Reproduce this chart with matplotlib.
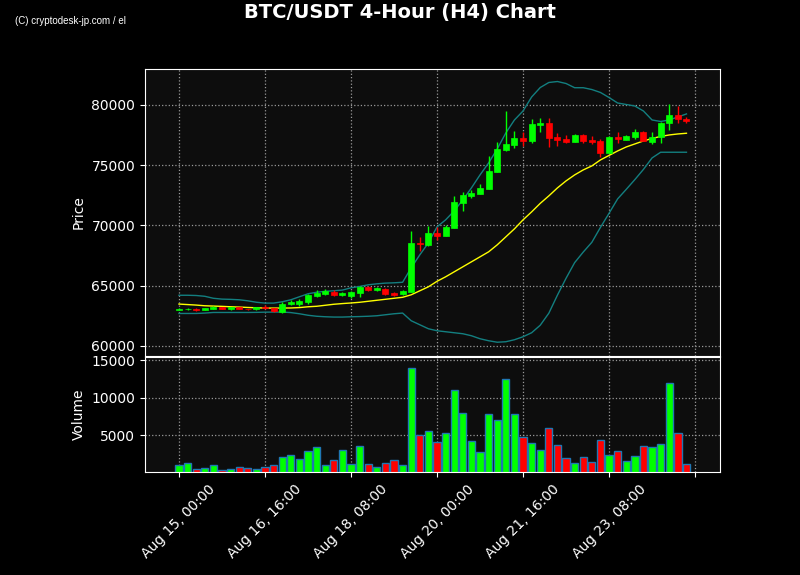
import numpy as np
import pandas as pd
import matplotlib
matplotlib.use("Agg")
import matplotlib.pyplot as plt

# 4-hour candles, starting Aug 15 00:00
start = "2024-08-15 00:00"
n = 60

opens = [63000, 63020, 63080, 62990, 63080, 63220, 63040, 63210, 63070, 63020,
         63250, 63100, 62840, 63425, 63425, 63600, 64150, 64290, 64500, 64205,
         64150, 64340, 64890, 64590, 64700, 64340, 64290, 64500, 68520, 68380,
         69350, 69150, 69820, 71890, 72450, 72640, 73050, 74460, 76270, 76680,
         77290, 77010, 78370, 78500, 77370, 77180, 76950, 77510, 77100, 77040,
         76020, 77370, 77100, 77370, 77760, 76950, 77370, 78480, 79170, 78840]
highs = [63120, 63100, 63120, 63150, 63260, 63240, 63230, 63230, 63090, 63220,
         63350, 63150, 63590, 63815, 63870, 64310, 64590, 64690, 64600, 64480,
         64560, 65000, 64980, 64850, 64770, 64450, 64650, 69540, 68990, 69980,
         69850, 70040, 72470, 72800, 72950, 73420, 75790, 76950, 79530, 77870,
         77730, 78810, 78900, 78900, 77650, 77510, 77550, 77590, 77430, 77140,
         77430, 77780, 77510, 78030, 77820, 77780, 78590, 80060, 79920, 79030]
lows = [62950, 62980, 62880, 62970, 63050, 63020, 63000, 63030, 62960, 62990,
        63050, 62760, 62710, 63400, 63320, 63425, 64040, 64250, 64090, 64090,
        63960, 64040, 64560, 64520, 64230, 64120, 64230, 64440, 67880, 68300,
        68800, 69100, 69750, 71200, 72250, 72580, 72980, 74400, 76180, 76410,
        76620, 76870, 77780, 76540, 76600, 76850, 76900, 76870, 76760, 75660,
        75980, 76820, 77050, 77180, 76980, 76760, 76870, 77930, 78480, 78530]
closes = [63080, 63070, 62980, 63130, 63200, 63050, 63200, 63050, 63020, 63180,
          63150, 62850, 63483, 63590, 63700, 64230, 64370, 64560, 64205, 64370,
          64420, 64890, 64620, 64790, 64290, 64230, 64560, 68520, 68420, 69350,
          69150, 69850, 71950, 72530, 72720, 73140, 74520, 76350, 76760, 77240,
          77010, 78420, 78530, 77290, 77100, 76950, 77510, 77040, 76900, 76040,
          77340, 77150, 77430, 77760, 77010, 77340, 78530, 79170, 78810, 78700]
volumes = [1090, 1360, 560, 690, 1090, 380, 560, 830, 690, 560,
           830, 1090, 2160, 2430, 1890, 2960, 3490, 1090, 1760, 3090,
           1230, 3630, 1230, 830, 1360, 1760, 1090, 14030, 5090, 5630,
           4160, 5360, 11090, 8030, 4290, 2830, 7890, 7090, 12560, 7890,
           4830, 4030, 3090, 6030, 3760, 2030, 1360, 2160, 1490, 4430,
           2430, 2960, 1630, 2290, 3630, 3490, 3890, 12030, 5360, 1230]

# Bollinger bands (20, 2)
bb_upper = [64190, 64190, 64170, 64105, 63940, 63870, 63850, 63815, 63730, 63610,
            63540, 63540, 63650, 63815, 64065, 64315, 64440, 64520, 64565, 64620,
            64810, 64920, 65060, 65140, 65200, 65225, 65270, 66470, 67550, 68545,
            69875, 70455, 71200, 72115, 73110, 74190, 75185, 76350, 77675, 78755,
            79500, 80665, 81450, 81870, 81950, 81785, 81435, 81435, 81285, 81040,
            80620, 80165, 80040, 79915, 79500, 78755, 78630, 78755, 79005, 79255]
bb_mid = [63458, 63417, 63375, 63317, 63292, 63267, 63234, 63209, 63176, 63151,
          63126, 63126, 63126, 63134, 63167, 63234, 63275, 63358, 63442, 63500,
          63549, 63607, 63690, 63773, 63856, 63940, 64022, 64230, 64562, 64894,
          65350, 65724, 66139, 66554, 66969, 67384, 67799, 68380, 69044, 69708,
          70455, 71119, 71825, 72447, 73111, 73692, 74190, 74605, 74937, 75435,
          75809, 76182, 76514, 76763, 77012, 77220, 77386, 77510, 77593, 77651]
bb_lower = [62678, 62678, 62678, 62711, 62761, 62761, 62761, 62761, 62761, 62769,
            62786, 62794, 62794, 62753, 62653, 62529, 62446, 62404, 62379, 62379,
            62404, 62421, 62446, 62487, 62570, 62653, 62711, 62072, 61740, 61408,
            61242, 61159, 61076, 60993, 60827, 60578, 60412, 60288, 60329, 60495,
            60744, 61076, 61700, 62700, 64200, 65600, 66900, 67780, 68590, 69830,
            71000, 72200, 72990, 73800, 74650, 75600, 76074, 76074, 76074, 76074]

dates = pd.date_range(start, periods=n, freq="4h")
x = np.arange(n)
o = np.array(opens); h = np.array(highs); l = np.array(lows); c = np.array(closes)
up = c >= o
colors = np.where(up, "#00ff00", "#ff0000")

fig = plt.figure(figsize=(8, 5.75), dpi=100, facecolor="black")
ax = fig.add_axes([0.18125, 0.381, 0.71875, 0.499])
axv = fig.add_axes([0.18125, 0.179, 0.71875, 0.2], sharex=ax)

for a in (ax, axv):
    a.set_facecolor("#0d0d0d")
    for s in a.spines.values():
        s.set_color("white")
    a.tick_params(colors="white", labelsize=10)
    a.grid(True, color="#999999", linestyle=":", linewidth=0.9)
    a.set_axisbelow(True)

# candles
ax.vlines(x, l, h, colors=colors, linewidth=1, zorder=2)
body_bottom = np.minimum(o, c)
body_h = np.maximum(np.abs(c - o), 40)
ax.bar(x, body_h, bottom=body_bottom, width=0.7, color=colors,
       edgecolor=colors, linewidth=0.5, zorder=3)

# bollinger bands
ax.plot(x, bb_upper, color="#137f80", linewidth=1, zorder=1)
ax.plot(x, bb_lower, color="#137f80", linewidth=1, zorder=1)
ax.plot(x, bb_mid, color="#ffff00", linewidth=1, zorder=1)

ax.set_ylim(59150, 82990)
ax.set_yticks([60000, 65000, 70000, 75000, 80000])
ax.set_ylabel("Price", color="white", fontsize=10)
ax.tick_params(axis="x", labelbottom=False)

# volume
axv.bar(x, volumes, width=0.85, color=colors, edgecolor="#1f77b4", linewidth=1)
axv.set_ylim(0.3 * min(volumes), 1.1 * max(volumes))
axv.set_yticks([5000, 10000, 15000])
axv.set_ylabel("Volume", color="white", fontsize=10)

ticks = list(range(0, n + 1, 10))
labels = [dates[i].strftime("%b %d, %H:%M") if i < n else "" for i in ticks]
axv.set_xticks(ticks)
axv.set_xticklabels(labels, rotation=45, ha="center")
axv.set_xlim(-3.95, 62.9)

fig.suptitle("BTC/USDT 4-Hour (H4) Chart", color="white", fontsize=14,
             fontweight="bold", y=0.995)
fig.text(0.019, 0.963, "(C) cryptodesk-jp.com / el", color="white", fontsize=7,
         family="Liberation Sans", va="center")

fig.savefig("out.png", dpi=100, facecolor="black")
